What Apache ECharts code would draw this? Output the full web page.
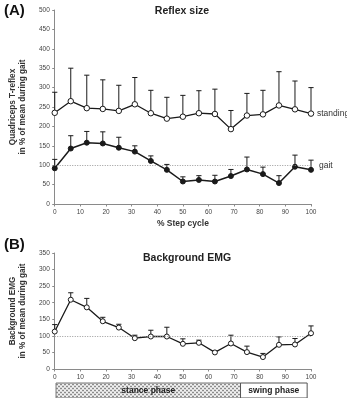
<!DOCTYPE html>
<html>
<head>
<meta charset="utf-8">
<style>
  html, body { margin: 0; padding: 0; background: #fff; }
  #chart { width: 347px; height: 398px; }
</style>
<script src="https://cdn.jsdelivr.net/npm/echarts@6/dist/echarts.min.js"></script>
</head>
<body>
<div id="chart"></div>
<script>
// % step cycle positions of each sample
var stepPos = [0, 6.25, 12.5, 18.75, 25, 31.25, 37.5, 43.75, 50, 56.25, 62.5, 68.75, 75, 81.25, 87.5, 93.75, 100];
// (A) reflex size: standing
var standingMean = [235, 265, 247, 245, 240, 257, 234, 220, 225, 234, 232, 193, 228, 231, 254, 244, 233];
var standingTop  = [288, 350, 332, 320, 306, 326, 293, 275, 280, 292, 296, 241, 285, 293, 341, 317, 300];
// (A) reflex size: gait
var gaitMean = [92, 143, 158, 156, 145, 135, 111, 88, 58, 62, 58, 72, 89, 77, 54, 96, 88];
var gaitTop  = [115, 176, 187, 186, 172, 150, 124, 102, 70, 73, 74, 89, 121, 95, 73, 126, 113];
// (B) background EMG
var emgMean = [113, 209, 186, 144, 125, 93, 98, 98, 76, 79, 50, 77, 51, 36, 73, 74, 108];
var emgTop  = [134, 230, 213, 156, 135, 102, 117, 126, 91, 87, 54, 102, 69, 47, 97, 92, 130];
// gait phases on the step cycle axis
var phaseNames = ['stance phase', 'swing phase'];
var phaseFrom = [0.5, 72.5];
var phaseTo = [72.5, 98.5];

var FONT = '"Liberation Sans", Arial, sans-serif';
var INK = '#1a1a1a';

function pairs(xs, ys) {
	return xs.map(function(x, i) { return [x, ys[i]]; });
}
function errData(xs, lo, hi) {
	return xs.map(function(x, i) { return [x, lo[i], hi[i]]; });
}
// 误差线：从均值向上画到上限，顶部加一个短横
function renderErr(params, api) {
	var x = api.value(0);
	var p1 = api.coord([x, api.value(1)]);
	var p2 = api.coord([x, api.value(2)]);
	var cap = 2.6;
	var st = { stroke: INK, lineWidth: 1 };
	return {
		type: 'group',
		children: [
			{ type: 'line', shape: { x1: p1[0], y1: p1[1], x2: p2[0], y2: p2[1] }, style: st },
			{ type: 'line', shape: { x1: p2[0] - cap, y1: p2[1], x2: p2[0] + cap, y2: p2[1] }, style: st }
		]
	};
}

function xAxisCfg(gridIndex, withName) {
	var a = {
		type: 'value', gridIndex: gridIndex, min: 0, max: 100, interval: 10,
		axisLine: { lineStyle: { color: '#8a8a8a', width: 1 } },
		axisTick: { length: 2.5, lineStyle: { color: '#8a8a8a' } },
		axisLabel: { fontSize: 6.5, color: '#444', fontFamily: FONT, margin: 5 },
		splitLine: { show: false }
	};
	if (withName) {
		a.name = '% Step cycle';
		a.nameLocation = 'middle';
		a.nameGap = 15;
		a.nameTextStyle = { fontSize: 8.5, fontWeight: 'bold', color: '#333', fontFamily: FONT };
	}
	return a;
}
function yAxisCfg(gridIndex, max, name, gap) {
	return {
		type: 'value', gridIndex: gridIndex, min: 0, max: max, interval: 50,
		name: name, nameLocation: 'middle', nameGap: gap,
		nameTextStyle: { fontSize: 8.2, fontWeight: 'bold', color: '#333', fontFamily: FONT, lineHeight: 10 },
		axisLine: { show: true, lineStyle: { color: '#8a8a8a', width: 1 } },
		axisTick: { show: true, length: 2.5, lineStyle: { color: '#8a8a8a' } },
		axisLabel: { fontSize: 6.5, color: '#444', fontFamily: FONT, margin: 5 },
		splitLine: { show: false }
	};
}
function refLine() {
	return {
		silent: true, symbol: 'none', label: { show: false },
		lineStyle: { color: '#999', type: [1, 1.5], width: 1 },
		data: [{ yAxis: 100 }]
	};
}

var chart = echarts.init(document.getElementById('chart'), null, { renderer: 'canvas' });

var option = {
	animation: false,
	backgroundColor: '#fff',
	title: [
		{ text: '(A)', left: -1, top: -2, textStyle: { fontSize: 15, fontWeight: 'bold', color: '#111', fontFamily: FONT } },
		{ text: 'Reflex size', left: 177, top: 1, textAlign: 'center', textStyle: { fontSize: 10.5, fontWeight: 'bold', color: '#222', fontFamily: FONT } },
		{ text: '(B)', left: -1, top: 232, textStyle: { fontSize: 15, fontWeight: 'bold', color: '#111', fontFamily: FONT } },
		{ text: 'Background EMG', left: 182, top: 248, textAlign: 'center', textStyle: { fontSize: 10.5, fontWeight: 'bold', color: '#222', fontFamily: FONT } }
	],
	grid: [
		{ left: 49, top: 10, width: 262, height: 194 },
		{ left: 49, top: 253, width: 262, height: 116 }
	],
	xAxis: [xAxisCfg(0, true), xAxisCfg(1, false)],
	yAxis: [
		yAxisCfg(0, 500, 'Quadriceps T-reflex\nin % of mean during gait', 16),
		yAxisCfg(1, 350, 'Background EMG\nin % of mean during gait', 24)
	],
	series: [
		{ type: 'custom', xAxisIndex: 0, yAxisIndex: 0, renderItem: renderErr, data: errData(stepPos, standingMean, standingTop), z: 1, silent: true },
		{ type: 'custom', xAxisIndex: 0, yAxisIndex: 0, renderItem: renderErr, data: errData(stepPos, gaitMean, gaitTop), z: 1, silent: true },
		{ type: 'custom', xAxisIndex: 1, yAxisIndex: 1, renderItem: renderErr, data: errData(stepPos, emgMean, emgTop), z: 1, silent: true },
		{
			name: 'standing', type: 'line', xAxisIndex: 0, yAxisIndex: 0, z: 3,
			data: pairs(stepPos, standingMean),
			symbol: 'circle', symbolSize: 5.5,
			lineStyle: { color: INK, width: 1.3 },
			itemStyle: { color: '#fff', borderColor: INK, borderWidth: 1 },
			endLabel: { show: true, formatter: 'standing', distance: 6, fontSize: 8.5, color: '#333', fontFamily: FONT }
		},
		{
			name: 'gait', type: 'line', xAxisIndex: 0, yAxisIndex: 0, z: 3,
			data: pairs(stepPos, gaitMean),
			symbol: 'circle', symbolSize: 5,
			lineStyle: { color: INK, width: 1.5 },
			itemStyle: { color: INK, borderColor: INK, borderWidth: 1 },
			endLabel: { show: true, formatter: 'gait', distance: 8, offset: [0, -4], fontSize: 8.5, color: '#333', fontFamily: FONT },
			markLine: refLine()
		},
		{
			name: 'emg', type: 'line', xAxisIndex: 1, yAxisIndex: 1, z: 3,
			data: pairs(stepPos, emgMean),
			symbol: 'circle', symbolSize: 5,
			lineStyle: { color: INK, width: 1.3 },
			itemStyle: { color: '#fff', borderColor: INK, borderWidth: 1 },
			markLine: refLine()
		}
	]
};
chart.setOption(option);

// 生成支撑相的点状纹理
function makePattern() {
	var c = document.createElement('canvas');
	c.width = 4; c.height = 4;
	var ctx = c.getContext('2d');
	ctx.fillStyle = '#d9d9d9';
	ctx.fillRect(0, 0, 4, 4);
	ctx.fillStyle = '#8c8c8c';
	ctx.fillRect(0, 0, 2, 1);
	ctx.fillRect(2, 2, 2, 1);
	ctx.fillStyle = '#f2f2f2';
	ctx.fillRect(2, 0, 2, 1);
	ctx.fillRect(0, 2, 2, 1);
	return c;
}

// 步态相位条，放在 (B) 的横轴下方
var barTop = 383, barH = 15;
var graphics = [];
phaseNames.forEach(function(name, i) {
	var x1 = chart.convertToPixel({ xAxisIndex: 1 }, phaseFrom[i]);
	var x2 = chart.convertToPixel({ xAxisIndex: 1 }, phaseTo[i]);
	graphics.push({
		type: 'rect', silent: true,
		shape: { x: x1, y: barTop, width: x2 - x1, height: barH },
		style: i === 0
			? { fill: { image: makePattern(), repeat: 'repeat' }, stroke: '#777', lineWidth: 1 }
			: { fill: '#fff', stroke: '#555', lineWidth: 1 }
	});
	graphics.push({
		type: 'text', silent: true,
		x: (x1 + x2) / 2, y: barTop + 7.5,
		style: { text: name, align: 'center', verticalAlign: 'middle', fontSize: 8.5, fontWeight: 'bold', fill: '#222', font: 'bold 8.5px "Liberation Sans", Arial, sans-serif' }
	});
});
chart.setOption({ graphic: graphics });
</script>
</body>
</html>
